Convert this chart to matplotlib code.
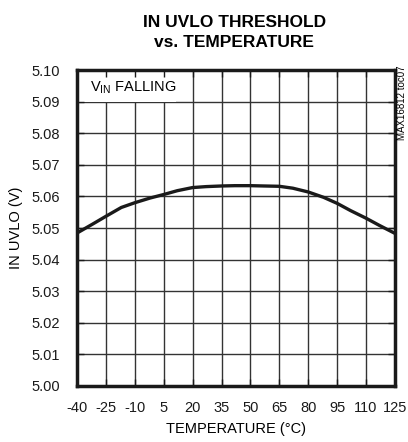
import matplotlib
matplotlib.use('Agg')
import matplotlib.pyplot as plt
from matplotlib.patches import Rectangle
import numpy as np

# data
temps = [-40, -32, -25, -17, -10, -2, 5, 12, 20, 27, 35, 42, 50, 57, 65, 72, 80, 88, 95, 102, 110, 117, 125]
uvlo = [5.0484, 5.0512, 5.0537, 5.0565, 5.0580, 5.0595, 5.0606, 5.0618, 5.0628, 5.0631, 5.0633, 5.0634,
        5.0634, 5.0633, 5.0632, 5.0626, 5.0614, 5.0597, 5.0578, 5.0555, 5.0531, 5.0508, 5.0483]
x_ticks = [-40, -25, -10, 5, 20, 35, 50, 65, 80, 95, 110, 125]
y_ticks = [5.00, 5.01, 5.02, 5.03, 5.04, 5.05, 5.06, 5.07, 5.08, 5.09, 5.10]

font = ['Liberation Sans Narrow', 'Liberation Sans', 'DejaVu Sans']
plt.rcParams['font.family'] = font
plt.rcParams['mathtext.fontset'] = 'custom'
plt.rcParams['mathtext.rm'] = 'Liberation Sans'

fig = plt.figure(figsize=(4.08, 4.42), dpi=100)
ax = fig.add_axes([0.1887, 0.1267, 0.7793, 0.7149])

ax.set_xlim(-40, 125)
ax.set_ylim(5.00, 5.10)

# grid drawn by hand so the label box can cover it but not the ticks
ax.vlines(x_ticks[1:-1], 5.00, 5.10, colors='#333333', linewidth=1.0, zorder=0.5)
ax.hlines(y_ticks[1:-1], -40, 125, colors='#333333', linewidth=1.0, zorder=0.5)
ax.add_patch(Rectangle((0, 0.9), 0.31, 0.1, transform=ax.transAxes,
                       facecolor='white', edgecolor='none', zorder=1))

ax.plot(temps, uvlo, color='#1a1a1a', linewidth=2.4, zorder=3)

ax.set_xticks(x_ticks)
ax.set_xticklabels([str(t) for t in x_ticks])
ax.set_yticks(y_ticks)
ax.set_yticklabels(['%.2f' % v for v in y_ticks])
ax.tick_params(direction='in', length=5, width=1, top=True, right=True,
               labelsize=10.5, colors='#1a1a1a')
ax.tick_params(axis='x', pad=11)
ax.tick_params(axis='y', pad=12)
for s in ax.spines.values():
    s.set_linewidth(2.5)
    s.set_color('#1a1a1a')

ax.set_xlabel('TEMPERATURE (°C)', fontsize=10.5, labelpad=5)
ax.set_ylabel('IN UVLO (V)', fontsize=10.5, labelpad=6)

fig.text(0.574, 0.926, 'IN UVLO THRESHOLD\nvs. TEMPERATURE', ha='center', va='center',
         fontsize=12.5, fontweight='bold', linespacing=1.45)

ax.text(0.04, 0.945, r'$\mathregular{V_{IN}}$ FALLING', transform=ax.transAxes,
        fontsize=10.5, va='center', ha='left', zorder=4)
fig.text(0.986, 0.852, 'MAX16812 toc07', rotation=90, ha='center', va='top', fontsize=7)

fig.savefig('out.png', dpi=100)
